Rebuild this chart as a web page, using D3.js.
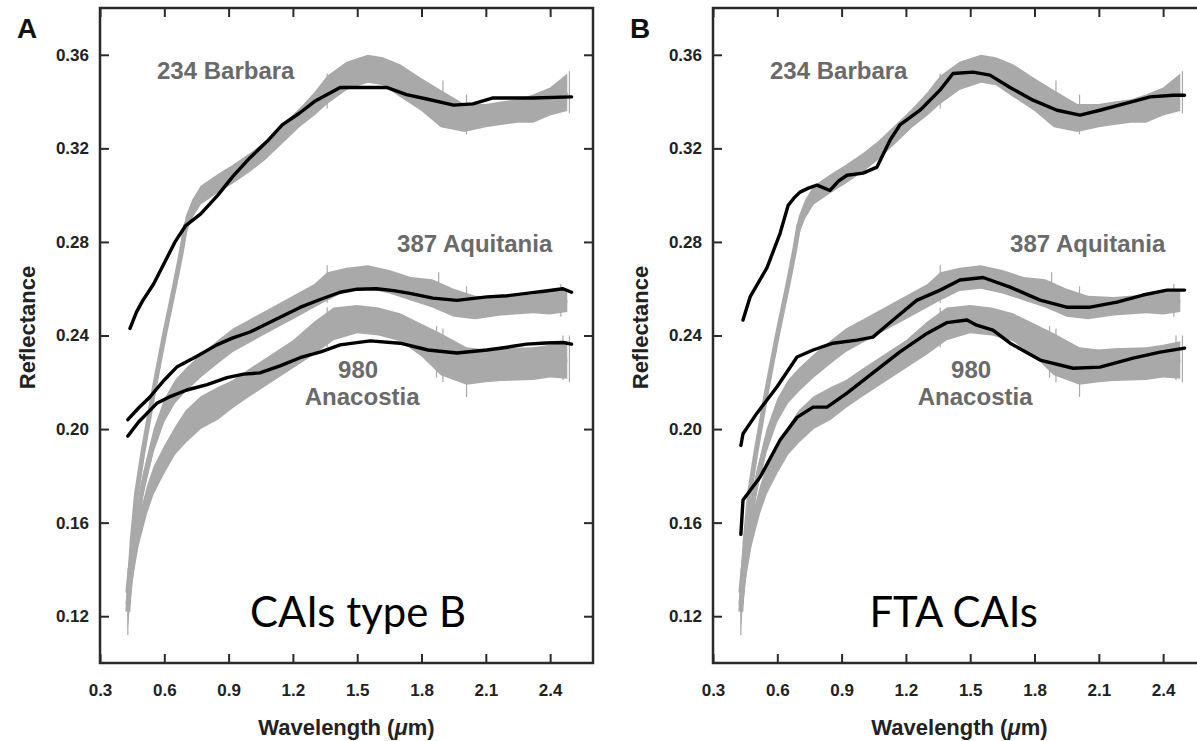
<!DOCTYPE html>
<html>
<head>
<meta charset="utf-8">
<script src="https://cdn.jsdelivr.net/npm/d3@7"></script>
<style>
	body { margin: 0; background: #fff; }
	svg { display: block; font-family: 'Liberation Sans', Arial, Helvetica, sans-serif; }
</style>
</head>
<body>
<svg id="chart" width="1197" height="741"></svg>
<script>
'use strict'

// Asteroid spectra (grey, same in both panels): [wavelength, reflectance, half error]
const grayBarbara = [
	[0.43, 0.122, 0.008], [0.44, 0.138, 0.008], [0.45, 0.152, 0.006], [0.47, 0.172, 0.005],
	[0.50, 0.190, 0.004], [0.55, 0.216, 0.004], [0.60, 0.240, 0.004], [0.65, 0.262, 0.004],
	[0.68, 0.276, 0.004], [0.70, 0.287, 0.004], [0.73, 0.294, 0.004], [0.77, 0.300, 0.004],
	[0.85, 0.305, 0.004], [0.92, 0.309, 0.004], [1.00, 0.314, 0.004], [1.07, 0.319, 0.004],
	[1.15, 0.326, 0.004], [1.23, 0.333, 0.004], [1.30, 0.339, 0.005], [1.36, 0.345, 0.006],
	[1.45, 0.351, 0.006], [1.55, 0.354, 0.006], [1.62, 0.353, 0.006], [1.70, 0.349, 0.007],
	[1.80, 0.343, 0.007], [1.89, 0.337, 0.008], [2.00, 0.333, 0.006], [2.10, 0.334, 0.005],
	[2.17, 0.335, 0.005], [2.25, 0.336, 0.005], [2.32, 0.337, 0.006], [2.40, 0.340, 0.006],
	[2.48, 0.344, 0.008],
]
const grayAquitania = [
	[0.43, 0.130, 0.010], [0.44, 0.140, 0.008], [0.46, 0.152, 0.006], [0.48, 0.165, 0.005],
	[0.50, 0.176, 0.005], [0.55, 0.195, 0.005], [0.60, 0.208, 0.005], [0.65, 0.216, 0.005],
	[0.70, 0.221, 0.005], [0.77, 0.227, 0.005], [0.85, 0.233, 0.005], [0.92, 0.238, 0.005],
	[1.00, 0.242, 0.005], [1.10, 0.247, 0.005], [1.20, 0.252, 0.005], [1.30, 0.257, 0.005],
	[1.36, 0.261, 0.006], [1.45, 0.264, 0.005], [1.55, 0.265, 0.005], [1.65, 0.263, 0.005],
	[1.75, 0.260, 0.005], [1.85, 0.258, 0.006], [1.95, 0.254, 0.006], [2.05, 0.252, 0.005],
	[2.17, 0.2525, 0.004], [2.32, 0.2535, 0.004], [2.40, 0.254, 0.005], [2.48, 0.255, 0.005],
]
const grayAnacostia = [
	[0.43, 0.125, 0.010], [0.45, 0.142, 0.008], [0.48, 0.156, 0.006], [0.52, 0.170, 0.006],
	[0.55, 0.178, 0.006], [0.60, 0.187, 0.006], [0.65, 0.195, 0.006], [0.70, 0.201, 0.007],
	[0.77, 0.207, 0.007], [0.85, 0.211, 0.007], [0.92, 0.215, 0.006], [1.00, 0.220, 0.006],
	[1.10, 0.226, 0.006], [1.20, 0.232, 0.006], [1.30, 0.239, 0.007], [1.39, 0.245, 0.007],
	[1.50, 0.247, 0.006], [1.60, 0.246, 0.006], [1.70, 0.2435, 0.006], [1.80, 0.238, 0.007],
	[1.89, 0.232, 0.009], [2.01, 0.227, 0.008], [2.10, 0.227, 0.007], [2.17, 0.2275, 0.007],
	[2.32, 0.228, 0.007], [2.40, 0.229, 0.007], [2.48, 0.2295, 0.008],
]
// Isolated long error bars: [wavelength, low, high]
const errorBars = [
	[0.43, 0.112, 0.135], [1.36, 0.337, 0.352], [1.90, 0.329, 0.349], [2.01, 0.326, 0.343], [2.49, 0.335, 0.353],
	[1.36, 0.254, 0.270], [1.88, 0.256, 0.267], [2.01, 0.249, 0.261], [2.45, 0.248, 0.262],
	[1.36, 0.235, 0.252], [1.87, 0.222, 0.244], [1.90, 0.220, 0.243], [2.01, 0.2137, 0.231],
	[2.46, 0.221, 0.240], [2.49, 0.220, 0.240],
]

// Meteorite mixture spectra (black): [wavelength, reflectance]
const modelA_Barbara = [
	[0.44, 0.243], [0.47, 0.250], [0.50, 0.255], [0.55, 0.262], [0.60, 0.271], [0.65, 0.280],
	[0.70, 0.287], [0.77, 0.292], [0.85, 0.300], [0.92, 0.308], [1.00, 0.316], [1.08, 0.323],
	[1.15, 0.330], [1.23, 0.335], [1.30, 0.340], [1.42, 0.346], [1.55, 0.346], [1.64, 0.346],
	[1.73, 0.343], [1.83, 0.341], [1.95, 0.3385], [2.04, 0.339], [2.13, 0.3415], [2.32, 0.3415],
	[2.50, 0.342],
]
const modelA_Aquitania = [
	[0.43, 0.204], [0.48, 0.209], [0.533, 0.2137], [0.60, 0.221], [0.658, 0.2265], [0.75, 0.231],
	[0.845, 0.236], [0.92, 0.239], [1.00, 0.2415], [1.10, 0.246], [1.233, 0.252], [1.33, 0.2555],
	[1.42, 0.2585], [1.50, 0.2598], [1.59, 0.260], [1.67, 0.2592], [1.746, 0.258], [1.853, 0.256],
	[1.965, 0.255], [2.105, 0.2565], [2.20, 0.257], [2.29, 0.258], [2.38, 0.259], [2.46, 0.260],
	[2.50, 0.2585],
]
const modelA_Anacostia = [
	[0.43, 0.197], [0.48, 0.203], [0.565, 0.211], [0.63, 0.214], [0.705, 0.2167], [0.80, 0.219],
	[0.892, 0.222], [0.97, 0.2235], [1.046, 0.224], [1.14, 0.227], [1.233, 0.2305], [1.33, 0.233],
	[1.42, 0.236], [1.56, 0.2377], [1.70, 0.2367], [1.83, 0.2338], [1.965, 0.2325], [2.105, 0.2338],
	[2.20, 0.235], [2.29, 0.2363], [2.38, 0.2368], [2.46, 0.237], [2.50, 0.2363],
]
const modelB_Barbara = [
	[0.44, 0.2466], [0.473, 0.2565], [0.552, 0.269], [0.613, 0.2837], [0.65, 0.2955], [0.68, 0.299],
	[0.706, 0.3013], [0.745, 0.303], [0.785, 0.3043], [0.846, 0.302], [0.885, 0.306], [0.925, 0.3085],
	[1.00, 0.3094], [1.065, 0.312], [1.126, 0.3235], [1.172, 0.330], [1.266, 0.3363], [1.36, 0.345],
	[1.42, 0.352], [1.513, 0.3526], [1.592, 0.3513], [1.686, 0.346], [1.793, 0.3406], [1.905, 0.3363],
	[2.012, 0.3342], [2.105, 0.3363], [2.23, 0.3393], [2.34, 0.342], [2.446, 0.3427], [2.50, 0.3427],
]
const modelB_Aquitania = [
	[0.43, 0.193], [0.44, 0.198], [0.505, 0.2068], [0.598, 0.218], [0.692, 0.2308], [0.767, 0.2338],
	[0.86, 0.2367], [0.972, 0.238], [1.046, 0.2393], [1.14, 0.2466], [1.25, 0.255], [1.36, 0.2594],
	[1.452, 0.2637], [1.56, 0.2648], [1.686, 0.2607], [1.826, 0.2551], [1.95, 0.2521], [2.06, 0.2521],
	[2.185, 0.2543], [2.306, 0.2573], [2.418, 0.2594], [2.50, 0.2594],
]
const modelB_Anacostia = [
	[0.43, 0.155], [0.44, 0.1697], [0.52, 0.1795], [0.613, 0.1953], [0.692, 0.205], [0.767, 0.2094],
	[0.832, 0.2094], [0.925, 0.2154], [1.046, 0.224], [1.172, 0.233], [1.30, 0.241], [1.39, 0.2455],
	[1.485, 0.2466], [1.53, 0.2444], [1.606, 0.2423], [1.686, 0.2367], [1.826, 0.2295], [1.98, 0.226],
	[2.105, 0.2265], [2.26, 0.2303], [2.386, 0.2329], [2.50, 0.2346],
]

// Axis ticks
const xTicks = [0.3, 0.6, 0.9, 1.2, 1.5, 1.8, 2.1, 2.4]
const yTicks = [0.12, 0.16, 0.20, 0.24, 0.28, 0.32, 0.36]

// Curve labels: [text, wavelength, reflectance (baseline), anchor]
const curveLabels = [
	['234 Barbara', 0.566, 0.3496, 'start'],
	['387 Aquitania', 1.686, 0.2756, 'start'],
	['980', 1.504, 0.2218, 'middle'],
	['Anacostia', 1.523, 0.2105, 'middle'],
]

const panels = [
	{ letter: 'A', left: 100, models: [modelA_Barbara, modelA_Aquitania, modelA_Anacostia], caption: 'CAIs type B', capAt: [1.0, 0.1155] },
	{ letter: 'B', left: 713, models: [modelB_Barbara, modelB_Aquitania, modelB_Anacostia], caption: 'FTA CAIs', capAt: [1.03, 0.1155] },
]

const TOP = 8
const PW = 493
const PH = 655
const GRAY = '#a9a9a9'

const svg = d3.select('#chart')
svg.append('rect').attr('width', 1197).attr('height', 741).attr('fill', '#fff')

const x = d3.scaleLinear().domain([0.3, 2.6]).range([0, PW])
const y = d3.scaleLinear().domain([0.10, 0.38]).range([PH, 0])

const area = d3.area()
	.x((d) => x(d[0]))
	.y0((d) => y(d[1] - d[2]))
	.y1((d) => y(d[1] + d[2]))
const line = d3.line()
	.x((d) => x(d[0]))
	.y((d) => y(d[1]))

// Fit caption font size to the reference width
let captionSize = 44

panels.forEach((p, i) => {
	const g = svg.append('g').attr('transform', `translate(${p.left},${TOP})`)

	// Grey asteroid data
	const grays = [grayBarbara, grayAquitania, grayAnacostia]
	grays.forEach((s) => {
		g.append('path').datum(s)
			.attr('d', area)
			.attr('fill', GRAY)
		g.append('path').datum(s)
			.attr('d', line)
			.attr('fill', 'none')
			.attr('stroke', GRAY)
			.attr('stroke-width', 5)
	})
	g.selectAll('line.err').data(errorBars).enter().append('line')
		.attr('class', 'err')
		.attr('x1', (d) => x(d[0])).attr('x2', (d) => x(d[0]))
		.attr('y1', (d) => y(d[1])).attr('y2', (d) => y(d[2]))
		.attr('stroke', GRAY).attr('stroke-width', 1.2)

	// Black model spectra
	p.models.forEach((s) => {
		g.append('path').datum(s)
			.attr('d', line)
			.attr('fill', 'none')
			.attr('stroke', '#000')
			.attr('stroke-width', 3.4)
			.attr('stroke-linejoin', 'round')
			.attr('stroke-linecap', 'round')
	})

	// Axes
	g.append('g').attr('transform', `translate(0,${PH})`)
		.call(d3.axisBottom(x).tickValues(xTicks).tickSizeInner(-9).tickSizeOuter(0).tickPadding(21).tickFormat(d3.format('.1f')))
	g.append('g')
		.call(d3.axisLeft(y).tickValues(yTicks).tickSizeInner(-9).tickSizeOuter(0).tickPadding(11).tickFormat(d3.format('.2f')))
	g.append('g')
		.call(d3.axisTop(x).tickValues(xTicks).tickSizeInner(-9).tickSizeOuter(0).tickFormat(''))
	g.append('g').attr('transform', `translate(${PW},0)`)
		.call(d3.axisRight(y).tickValues(yTicks).tickSizeInner(-9).tickSizeOuter(0).tickFormat(''))
	g.selectAll('.domain').remove()
	g.selectAll('.tick line').attr('stroke', '#2a2a2a').attr('stroke-width', 2)
	g.selectAll('.tick text')
		.attr('fill', '#222')
		.style('font-size', '17px')
		.style('font-weight', 'bold')
		.style('font-family', "'Liberation Sans', Arial, sans-serif")

	g.append('rect')
		.attr('width', PW).attr('height', PH)
		.attr('fill', 'none')
		.attr('stroke', '#2a2a2a')
		.attr('stroke-width', 2.5)

	// Curve labels
	curveLabels.forEach((l) => {
		g.append('text')
			.attr('x', x(l[1])).attr('y', y(l[2]))
			.attr('text-anchor', l[3])
			.attr('fill', '#6a6a6a')
			.style('font-size', '24px')
			.style('font-weight', 'bold')
			.text(l[0])
	})

	// Axis titles
	g.append('text')
		.attr('transform', `translate(-65,${PH / 2 - 8}) rotate(-90)`)
		.attr('text-anchor', 'middle')
		.attr('fill', '#222')
		.style('font-size', '22px')
		.style('font-weight', 'bold')
		.text('Reflectance')
	const xt = g.append('text')
		.attr('x', PW / 2).attr('y', PH + 72)
		.attr('text-anchor', 'middle')
		.attr('fill', '#222')
		.style('font-size', '22px')
		.style('font-weight', 'bold')
	xt.append('tspan').text('Wavelength (')
	xt.append('tspan').style('font-style', 'italic').text('\u03bc')
	xt.append('tspan').text('m)')

	// Panel letter
	g.append('text')
		.attr('x', -83).attr('y', 30)
		.attr('fill', '#111')
		.style('font-size', '28px')
		.style('font-weight', 'bold')
		.text(p.letter)

	// Caption
	const cap = g.append('text')
		.attr('x', x(p.capAt[0])).attr('y', y(p.capAt[1]))
		.attr('fill', '#000')
		.style('font-family', "Lato, 'Open Sans', sans-serif")
		.style('font-size', captionSize + 'px')
		.text(p.caption)
	if (i === 0) {
		captionSize = captionSize * 216 / cap.node().getComputedTextLength()
		cap.style('font-size', captionSize + 'px')
	}
})
</script>
</body>
</html>
